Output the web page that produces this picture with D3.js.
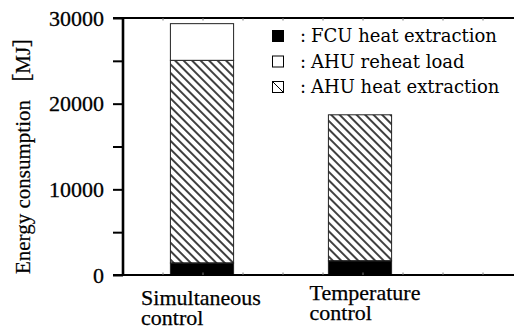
<!DOCTYPE html>
<html>
<head>
<meta charset="utf-8">
<script src="https://cdn.jsdelivr.net/npm/d3@7"></script>
<style>
  body { margin: 0; background: #fff; }
  svg { display: block; }
  text { font-family: "Liberation Serif", "Times New Roman", serif; fill: #000; }
</style>
</head>
<body>
<svg id="chart" width="514" height="329"></svg>
<script>
// data
var categories = ['Simultaneous control', 'Temperature control'];
var fcuHeatExtraction = [1400, 1650];
var ahuHeatExtraction = [23660, 17050];
var ahuReheatLoad = [4280, 0];
var yTicks = [0, 5000, 10000, 15000, 20000, 25000, 30000];
var yTickLabels = ['0', '', '10000', '', '20000', '', '30000'];
var legendLabels = ['FCU heat extraction', 'AHU reheat load', 'AHU heat extraction'];

var svg = d3.select('#chart');
var plotLeft = 123, plotRight = 514, plotTop = 18, plotBottom = 275;

var rows = categories.map(function (c, i) {
    return { cat: c, fcu: fcuHeatExtraction[i], extract: ahuHeatExtraction[i], reheat: ahuReheatLoad[i] };
});
var stack = d3.stack().keys(['fcu', 'extract', 'reheat'])(rows);

var y = d3.scaleLinear().domain([0, 30000]).range([plotBottom, plotTop]);
var x = d3.scaleBand().domain(categories).range([plotLeft, 439])
    .paddingInner(0.6).paddingOuter(0.3);
// faint minor marks along the horizontal frame lines (every 40px)
var xMinor = d3.scaleLinear().domain([0, (plotRight - plotLeft) / 40]).range([plotLeft, plotRight]);

var defs = svg.append('defs');
defs.append('pattern')
    .attr('id', 'hatch')
    .attr('patternUnits', 'userSpaceOnUse')
    .attr('width', 6).attr('height', 6)
    .attr('patternTransform', 'rotate(-45)')
  .append('line')
    .attr('x1', 3).attr('y1', 0).attr('x2', 3).attr('y2', 6)
    .attr('stroke', '#000').attr('stroke-width', 1.5);

var fills = { fcu: '#000', extract: 'url(#hatch)', reheat: '#fff' };

// bars
var layer = svg.append('g').selectAll('g')
    .data(stack)
  .enter().append('g')
    .attr('fill', function (d) { return fills[d.key]; });
layer.selectAll('rect')
    .data(function (d) { return d.filter(function (s) { return s[1] > s[0]; }); })
  .enter().append('rect')
    .attr('x', function (d) { return x(d.data.cat); })
    .attr('width', x.bandwidth())
    .attr('y', function (d) { return y(d[1]); })
    .attr('height', function (d) { return y(d[0]) - y(d[1]); })
    .attr('stroke', '#222').attr('stroke-width', 1);

// frame lines top and bottom
[plotTop, plotBottom].forEach(function (yy) {
    svg.append('line')
        .attr('x1', plotLeft - 10).attr('x2', plotRight)
        .attr('y1', yy).attr('y2', yy)
        .attr('stroke', '#000').attr('stroke-width', 2);
    svg.append('g').selectAll('line')
        .data(d3.range(1, 10))
      .enter().append('line')
        .attr('x1', function (d) { return xMinor(d); })
        .attr('x2', function (d) { return xMinor(d); })
        .attr('y1', yy === plotTop ? yy : yy - 2.5)
        .attr('y2', yy === plotTop ? yy + 2.5 : yy)
        .attr('stroke', '#777').attr('stroke-width', 1);
});

// y axis
var yAxis = d3.axisLeft(y)
    .tickValues(yTicks)
    .tickSize(10)
    .tickPadding(9)
    .tickFormat(function (d, i) { return yTickLabels[i]; });
var ya = svg.append('g')
    .attr('transform', 'translate(' + plotLeft + ',0)')
    .call(yAxis);
ya.attr('font-family', null);
ya.select('.domain').remove();
ya.selectAll('.tick line').attr('stroke', '#000').attr('stroke-width', 2);
ya.selectAll('.tick text')
    .style('font-family', '"Liberation Serif", serif')
    .style('font-size', '22px')
    .attr('fill', '#000')
    .attr('stroke', '#000').attr('stroke-width', 0.3);
svg.append('line')
    .attr('x1', plotLeft).attr('x2', plotLeft)
    .attr('y1', plotTop - 1).attr('y2', plotBottom + 1)
    .attr('stroke', '#000').attr('stroke-width', 2.6);

// category labels, two lines each
var labelShift = [[-1, 0], [5, -5]];
categories.forEach(function (c, i) {
    var words = c.split(' ');
    var cx = x(c) + x.bandwidth() / 2;
    var first = svg.append('text')
        .style('font-size', '22px')
        .attr('stroke', '#000').attr('stroke-width', 0.25)
        .text(words[0]);
    var w = first.node().getComputedTextLength();
    var x0 = cx - w / 2 + labelShift[i][0];
    first.attr('x', x0).attr('y', 305 + labelShift[i][1]);
    svg.append('text')
        .style('font-size', '22px')
        .attr('stroke', '#000').attr('stroke-width', 0.25)
        .attr('x', x0).attr('y', 324.5 + labelShift[i][1])
        .text(words[1]);
});

// y title
svg.append('text')
    .attr('transform', 'translate(30,150) rotate(-90)')
    .attr('text-anchor', 'middle')
    .style('font-size', '21px')
    .style('font-family', '"Liberation Serif", "Noto Sans CJK JP", serif')
    .attr('stroke', '#000').attr('stroke-width', 0.2)
    .text('Energy consumption \uFF3BMJ\uFF3D');

// legend
var legend = svg.append('g');
var lg = legend.selectAll('g')
    .data(legendLabels)
  .enter().append('g')
    .attr('transform', function (d, i) { return 'translate(272,' + (30 + i * 25.5) + ')'; });
lg.append('rect')
    .attr('x', 0.5).attr('y', 0.5)
    .attr('width', 11).attr('height', 11)
    .attr('fill', function (d, i) { return i === 0 ? '#000' : '#fff'; })
    .attr('stroke', '#000').attr('stroke-width', 1);
lg.filter(function (d, i) { return i === 2; }).append('line')
    .attr('x1', 0.5).attr('y1', 0.5).attr('x2', 11.5).attr('y2', 11.5)
    .attr('stroke', '#000').attr('stroke-width', 1);
lg.append('text')
    .attr('x', 28).attr('y', 12)
    .style('font-family', '"DejaVu Serif", serif')
    .style('font-size', '18px')
    .text(':');
lg.append('text')
    .attr('x', 39).attr('y', 12)
    .style('font-family', '"DejaVu Serif", serif')
    .style('font-size', '18px')
    .text(function (d) { return d; });
</script>
</body>
</html>
